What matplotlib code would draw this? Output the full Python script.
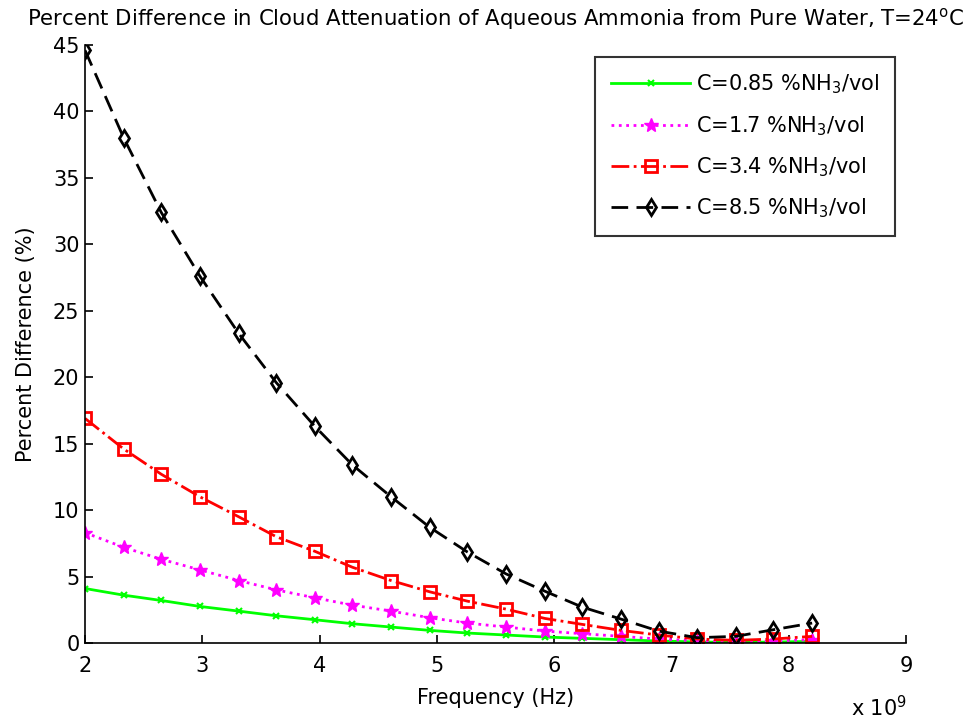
import numpy as np
import matplotlib
matplotlib.use('Agg')
import matplotlib.pyplot as plt

plt.rcParams['font.family'] = ['DejaVu Sans']
plt.rcParams['mathtext.fontset'] = 'dejavusans'

# frequency in units of 1e9 Hz
freq = [2.00, 2.33, 2.65, 2.98, 3.31, 3.63, 3.96, 4.28, 4.61, 4.94,
        5.26, 5.59, 5.92, 6.24, 6.57, 6.89, 7.22, 7.55, 7.87, 8.20]

c085 = [4.1, 3.6, 3.2, 2.75, 2.4, 2.05, 1.75, 1.45, 1.2, 0.95,
        0.75, 0.6, 0.45, 0.35, 0.25, 0.15, 0.08, 0.05, 0.07, 0.12]
c17 = [8.3, 7.2, 6.3, 5.5, 4.7, 4.0, 3.4, 2.85, 2.4, 1.9,
       1.5, 1.2, 0.9, 0.7, 0.5, 0.3, 0.15, 0.1, 0.15, 0.25]
c34 = [16.9, 14.6, 12.7, 11.0, 9.5, 8.0, 6.9, 5.7, 4.7, 3.85,
       3.15, 2.55, 1.85, 1.4, 0.95, 0.6, 0.3, 0.2, 0.3, 0.5]
c85 = [44.6, 38.0, 32.4, 27.6, 23.3, 19.6, 16.3, 13.4, 11.0, 8.7,
       6.85, 5.2, 3.9, 2.7, 1.8, 0.9, 0.4, 0.5, 1.0, 1.5]

labels = ['C=0.85 %NH$_3$/vol', 'C=1.7 %NH$_3$/vol',
          'C=3.4 %NH$_3$/vol', 'C=8.5 %NH$_3$/vol']

fig = plt.figure(figsize=(9.73, 7.19), dpi=100)
ax = fig.add_axes([0.0874, 0.1057, 0.8437, 0.8317])

ax.plot(freq, c085, color='#00ff00', linestyle='-', marker='x', markersize=5,
        markeredgewidth=1.5, linewidth=2, label=labels[0])
ax.plot(freq, c17, color='#ff00ff', linestyle=':', marker='*', markersize=10,
        linewidth=2, label=labels[1])
ax.plot(freq, c34, color='#ff0000', linestyle='-.', marker='s', markersize=9,
        markerfacecolor='none', markeredgewidth=2, linewidth=2, label=labels[2])
ax.plot(freq, c85, color='black', linestyle='--', dashes=(6, 3), marker='d',
        markersize=8.5, markerfacecolor='none', markeredgewidth=2, linewidth=2,
        label=labels[3])

ax.set_xlim(2, 9)
ax.set_ylim(0, 45)
ax.set_xticks(range(2, 10))
ax.set_yticks(range(0, 46, 5))
ax.spines['top'].set_visible(False)
ax.spines['right'].set_visible(False)
for s in ['left', 'bottom']:
    ax.spines[s].set_linewidth(1.2)
ax.tick_params(direction='in', labelsize=15, length=6, width=1.2)
ax.tick_params(axis='x', pad=9)
ax.tick_params(axis='y', pad=4)

ax.set_xlabel('Frequency (Hz)', fontsize=15, labelpad=9)
ax.set_ylabel('Percent Difference (%)', fontsize=15, labelpad=12)
ax.set_title('Percent Difference in Cloud Attenuation of Aqueous Ammonia from Pure Water, T=24$^{\\rm o}$C',
             fontsize=15.3, pad=14)
fig.text(0.875, 0.004, 'x 10$^9$', fontsize=15)

leg = ax.legend(loc='upper right', fontsize=15, handlelength=3.8,
                handletextpad=0.3, frameon=True, fancybox=False,
                edgecolor='black', borderpad=0.75, labelspacing=0.85,
                borderaxespad=0, bbox_to_anchor=(0.987, 0.98))
leg.get_frame().set_linewidth(1.5)

fig.savefig('out.png', dpi=100)
